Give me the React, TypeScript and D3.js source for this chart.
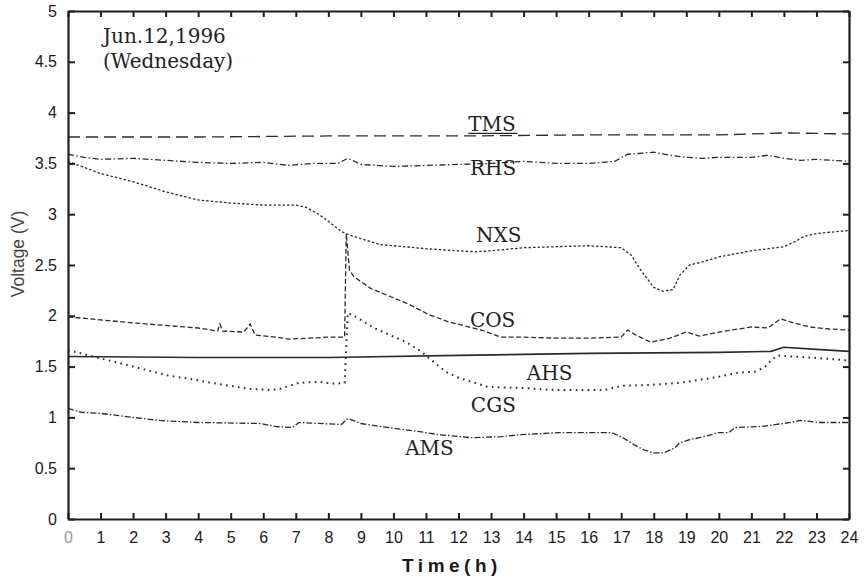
import React, { useEffect, useRef } from "react";
import * as d3 from "d3";

type Pt = [number, number];

// hour, volt pairs
const TMS: Pt[] = [[0, 3.76], [4, 3.76], [8, 3.77], [12, 3.77], [16, 3.78], [20, 3.78], [22, 3.8], [24, 3.79]];

const RHS: Pt[] = [
  [0, 3.59], [0.5, 3.56], [1, 3.54], [2, 3.55], [3, 3.53], [4, 3.51], [5, 3.5], [6, 3.51], [6.8, 3.48],
  [7.5, 3.5], [8.3, 3.5], [8.6, 3.55], [9, 3.49], [10, 3.47], [11, 3.48], [12, 3.49], [13, 3.5],
  [14, 3.52], [15, 3.5], [16, 3.5], [16.8, 3.52], [17.2, 3.59], [18, 3.61], [18.5, 3.58], [19, 3.56],
  [19.5, 3.55], [20, 3.56], [21, 3.56], [21.5, 3.58], [22, 3.55], [22.5, 3.53], [23, 3.54], [24, 3.52],
];

const NXS: Pt[] = [
  [0, 3.52], [0.5, 3.46], [1, 3.4], [2, 3.32], [3, 3.22], [4, 3.14], [5, 3.11], [6, 3.09], [7, 3.09],
  [7.3, 3.07], [7.7, 3.0], [8, 2.93], [8.4, 2.83], [8.7, 2.79], [9, 2.76], [9.6, 2.7], [10, 2.69],
  [11, 2.66], [12, 2.64], [12.5, 2.63], [13, 2.64], [14, 2.67], [15, 2.68], [16, 2.69], [17, 2.67],
  [17.3, 2.6], [17.6, 2.45], [18, 2.28], [18.3, 2.24], [18.6, 2.26], [18.8, 2.4], [19.1, 2.5],
  [19.5, 2.53], [20, 2.58], [21, 2.64], [22, 2.68], [22.4, 2.74], [22.6, 2.78], [23, 2.81], [24, 2.84],
];

const COS: Pt[] = [
  [0, 1.99], [1, 1.96], [2, 1.93], [2.8, 1.91], [4, 1.88], [4.6, 1.85], [4.67, 1.92], [4.75, 1.85],
  [5.4, 1.84], [5.6, 1.92], [5.75, 1.81], [6.4, 1.79], [6.8, 1.77], [7.4, 1.78], [8, 1.79], [8.5, 1.79],
  [8.55, 2.81], [8.65, 2.45], [8.8, 2.38], [9.3, 2.27], [9.9, 2.19], [10.5, 2.11], [11.1, 2.01],
  [11.7, 1.94], [12.2, 1.9], [12.7, 1.86], [13.3, 1.79], [14, 1.79], [15, 1.78], [16, 1.78], [17, 1.79],
  [17.2, 1.86], [17.4, 1.82], [17.9, 1.74], [18.5, 1.78], [19, 1.84], [19.4, 1.8], [20, 1.84],
  [21, 1.89], [21.5, 1.88], [21.9, 1.97], [22.3, 1.93], [22.8, 1.89], [23.4, 1.87], [24, 1.86],
];

const AHS: Pt[] = [
  [0, 1.6], [4, 1.59], [8, 1.59], [12, 1.61], [16, 1.63], [20, 1.64], [21.6, 1.65], [22, 1.69],
  [23, 1.67], [24, 1.65],
];

const CGS: Pt[] = [
  [0, 1.66], [0.4, 1.63], [1, 1.58], [1.4, 1.55], [2, 1.5], [2.5, 1.46], [3.1, 1.41], [3.75, 1.38],
  [4.4, 1.34], [5, 1.31], [5.6, 1.28], [6.2, 1.27], [6.5, 1.28], [7.1, 1.34], [7.7, 1.35], [8.2, 1.33],
  [8.5, 1.34], [8.6, 2.03], [8.9, 1.98], [9.4, 1.88], [9.9, 1.81], [10.4, 1.74], [10.8, 1.66],
  [11.3, 1.53], [11.6, 1.45], [12, 1.39], [12.5, 1.34], [12.9, 1.3], [13.9, 1.29], [15, 1.27],
  [16.5, 1.27], [17, 1.31], [17.9, 1.32], [18.8, 1.34], [19.4, 1.37], [20, 1.4], [20.6, 1.44],
  [21.1, 1.45], [21.4, 1.49], [21.6, 1.56], [21.8, 1.61], [22.2, 1.6], [22.8, 1.59], [24, 1.56],
];

const AMS: Pt[] = [
  [0, 1.09], [0.4, 1.05], [1, 1.04], [2, 1.0], [2.8, 0.97], [4, 0.95], [5.9, 0.94], [6.4, 0.91],
  [6.9, 0.9], [7.1, 0.95], [8.4, 0.93], [8.6, 0.99], [9, 0.94], [9.6, 0.91], [10.8, 0.86], [11.4, 0.83],
  [12.4, 0.8], [13.3, 0.81], [13.9, 0.83], [15.1, 0.85], [16.7, 0.85], [17, 0.81], [17.4, 0.73],
  [17.7, 0.68], [18, 0.65], [18.3, 0.65], [18.65, 0.7], [18.8, 0.75], [19.1, 0.78], [19.4, 0.8],
  [20, 0.85], [20.3, 0.85], [20.5, 0.9], [21.3, 0.91], [22.2, 0.95], [22.5, 0.97], [23.1, 0.95], [24, 0.95],
];

const hourTicks = d3.range(0, 25);
const voltTicks = d3.range(0, 5.01, 0.5);

const seriesList = [
  { name: "TMS", data: TMS, dash: "12,6", width: 1.3, label: [12.3, 3.82] },
  { name: "RHS", data: RHS, dash: "6,2.5,1.5,2.5", width: 1.3, label: [12.35, 3.39] },
  { name: "NXS", data: NXS, dash: "2.5,2", width: 1.3, label: [12.54, 2.73] },
  { name: "COS", data: COS, dash: "5,2.5", width: 1.3, label: [12.35, 1.89] },
  { name: "AHS", data: AHS, dash: "", width: 1.6, label: [14.1, 1.37] },
  { name: "CGS", data: CGS, dash: "1.6,4.4", width: 2, label: [12.38, 1.05] },
  { name: "AMS", data: AMS, dash: "6,2,1.5,2", width: 1.3, label: [10.36, 0.63] },
];

export default function App() {
  const ref = useRef<SVGSVGElement>(null);

  useEffect(() => {
    const svg = d3.select(ref.current);
    svg.selectAll("*").remove();
    const left = 68, right = 849, top = 11, bottom = 519;
    const x = d3.scaleLinear().domain([0, 24]).range([left, right]);
    const y = d3.scaleLinear().domain([0, 5]).range([bottom, top]);
    const ink = "#1e1e1e";

    const line = d3
      .line<Pt>()
      .x((d) => x(d[0]))
      .y((d) => y(d[1]));

    seriesList.forEach((s) => {
      svg
        .append("path")
        .attr("d", line(s.data))
        .attr("fill", "none")
        .attr("stroke", "#2b2b2b")
        .attr("stroke-width", s.width)
        .attr("stroke-dasharray", s.dash || null);
      svg
        .append("text")
        .text(s.name)
        .attr("x", x(s.label[0]))
        .attr("y", y(s.label[1]))
        .attr("font-family", "DejaVu Serif")
        .attr("font-size", 20)
        .attr("fill", "#222");
    });
    // underline of TMS label
    svg
      .append("line")
      .attr("x1", x(12.3))
      .attr("x2", x(12.3) + 49)
      .attr("y1", y(3.82) + 2.5)
      .attr("y2", y(3.82) + 2.5)
      .attr("stroke", "#222")
      .attr("stroke-width", 1.3);

    const fontAxis = "Liberation Sans, Arial, sans-serif";

    const bottomAxis = svg
      .append("g")
      .attr("transform", `translate(0,${bottom})`)
      .call(d3.axisBottom(x).tickValues(hourTicks).tickSizeInner(-6).tickSizeOuter(0).tickPadding(13).tickFormat(d3.format("d")));
    const topAxis = svg
      .append("g")
      .attr("transform", `translate(0,${top})`)
      .call(d3.axisTop(x).tickValues(hourTicks).tickSizeInner(-6).tickSizeOuter(0).tickFormat(() => ""));
    const leftAxis = svg
      .append("g")
      .attr("transform", `translate(${left},0)`)
      .call(d3.axisLeft(y).tickValues(voltTicks).tickSizeInner(-7).tickSizeOuter(0).tickPadding(11).tickFormat((d) => d3.format("~g")(d as number)));
    const rightAxis = svg
      .append("g")
      .attr("transform", `translate(${right},0)`)
      .call(d3.axisRight(y).tickValues(voltTicks).tickSizeInner(-6).tickSizeOuter(0).tickFormat(() => ""));

    [bottomAxis, topAxis, leftAxis, rightAxis].forEach((g) => {
      g.select(".domain").attr("stroke", ink).attr("stroke-width", 2.2);
      g.selectAll(".tick line").attr("stroke", ink).attr("stroke-width", 2);
      g.selectAll(".tick text")
        .attr("font-family", fontAxis)
        .attr("font-size", 16)
        .attr("fill", "#1a1a1a");
    });
    bottomAxis.selectAll(".tick").filter((d) => d === 0).select("text").attr("fill", "#999");

    svg
      .append("text")
      .text("Time(h)")
      .attr("x", 452)
      .attr("y", 572)
      .attr("text-anchor", "middle")
      .attr("font-family", fontAxis)
      .attr("font-weight", "bold")
      .attr("font-size", 19)
      .attr("letter-spacing", 4.5)
      .attr("fill", "#1a1a1a");

    svg
      .append("text")
      .text("Voltage (V)")
      .attr("transform", `translate(24,254) rotate(-90)`)
      .attr("text-anchor", "middle")
      .attr("font-family", fontAxis)
      .attr("font-size", 17.5)
      .attr("fill", "#444");

    const note = svg
      .append("text")
      .attr("font-family", "DejaVu Serif")
      .attr("font-size", 20)
      .attr("fill", "#222");
    note.append("tspan").attr("x", 103).attr("y", 43).text("Jun.12,1996");
    note.append("tspan").attr("x", 103).attr("y", 68).text("(Wednesday)");
  }, []);

  return (
    <svg
      ref={ref}
      width={864}
      height={579}
      style={{ position: "absolute", left: 0, top: 0, background: "#fff" }}
    />
  );
}
